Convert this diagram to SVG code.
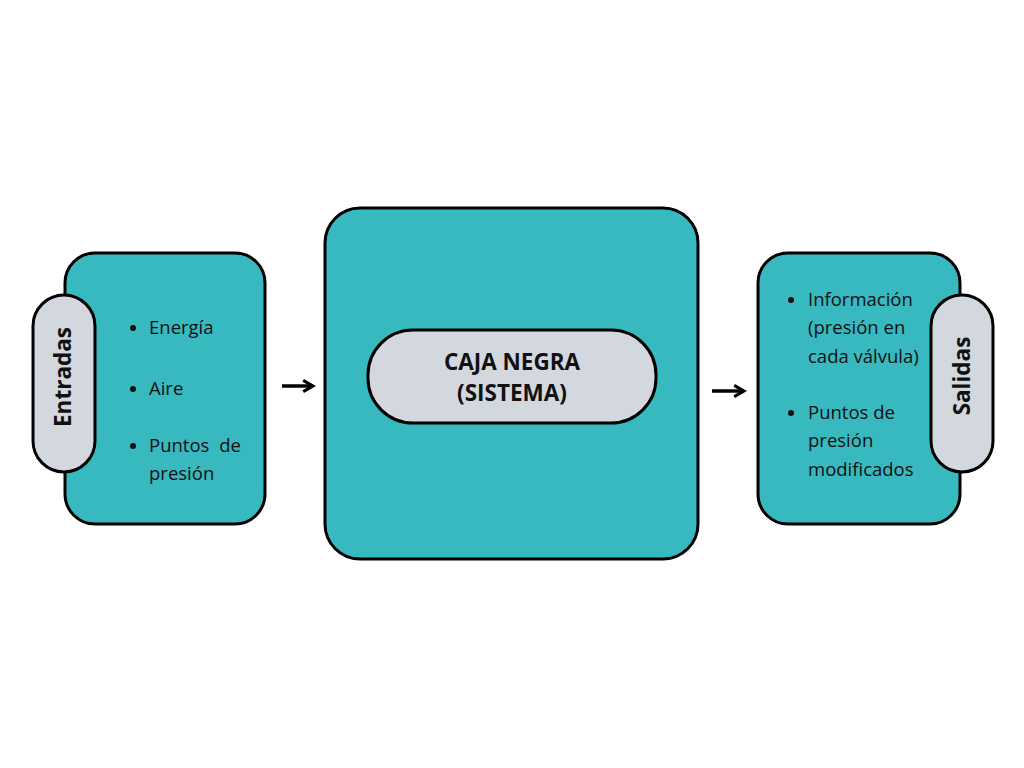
<svg xmlns="http://www.w3.org/2000/svg" width="1024" height="768" viewBox="0 0 1024 768">
<defs>
<style>
.box{fill:#38B8BF;stroke:#000;stroke-width:3}
.pill{fill:#D3D8DE;stroke:#000;stroke-width:3}
.t{font-family:"Open Sans","Liberation Sans",sans-serif;font-size:18.5px;font-weight:500;fill:#111}
.b{font-family:"Open Sans","Liberation Sans",sans-serif;font-size:22.5px;font-weight:bold;fill:#111}
.dot{fill:#111}
.arr{stroke:#000;stroke-width:3.5;fill:none}
</style>
<marker id="ah" viewBox="0 0 10 10" refX="8" refY="5" markerWidth="4" markerHeight="4" orient="auto" markerUnits="strokeWidth">
<path d="M1,1 L8,5 L1,9" fill="none" stroke="#000" stroke-width="2.2"/>
</marker>
</defs>
<rect width="1024" height="768" fill="#fff"/>
<g id="entradas">
<rect class="box" x="65" y="253" width="200" height="271" rx="30"/>
<rect class="pill" x="33" y="295" width="62" height="177" rx="31"/>
<text class="b" transform="translate(71,377) rotate(-90)" text-anchor="middle" font-size="21">Entradas</text>
<circle class="dot" cx="133" cy="328" r="3"/>
<circle class="dot" cx="133" cy="389" r="3"/>
<circle class="dot" cx="133" cy="446" r="3"/>
<g class="t">
<text x="149" y="334">Energía</text>
<text x="149" y="395">Aire</text>
<text x="149" y="452" word-spacing="5">Puntos de</text>
<text x="149" y="480">presión</text>
</g>
</g>
<g id="sistema">
<rect class="box" x="325" y="208" width="373" height="351" rx="35"/>
<rect class="pill" x="368" y="330" width="288" height="93" rx="45"/>
<text class="b" x="512" y="370" text-anchor="middle">CAJA NEGRA</text>
<text class="b" x="512" y="401" text-anchor="middle">(SISTEMA)</text>
</g>
<g id="salidas">
<rect class="box" x="758" y="253" width="202" height="271" rx="30"/>
<rect class="pill" x="931" y="295" width="62" height="177" rx="31"/>
<text class="b" transform="translate(970,376) rotate(-90)" text-anchor="middle" font-size="21">Salidas</text>
<circle class="dot" cx="791" cy="300" r="3"/>
<circle class="dot" cx="791" cy="413" r="3"/>
<g class="t">
<text x="808" y="306">Información</text>
<text x="808" y="334">(presión en</text>
<text x="808" y="363">cada válvula)</text>
<text x="808" y="419">Puntos de</text>
<text x="808" y="447">presión</text>
<text x="808" y="476">modificados</text>
</g>
</g>
<g id="connectors">
<line class="arr" x1="282" y1="386" x2="313" y2="386" marker-end="url(#ah)"/>
<line class="arr" x1="712" y1="391" x2="744" y2="391" marker-end="url(#ah)"/>
</g>
</svg>
